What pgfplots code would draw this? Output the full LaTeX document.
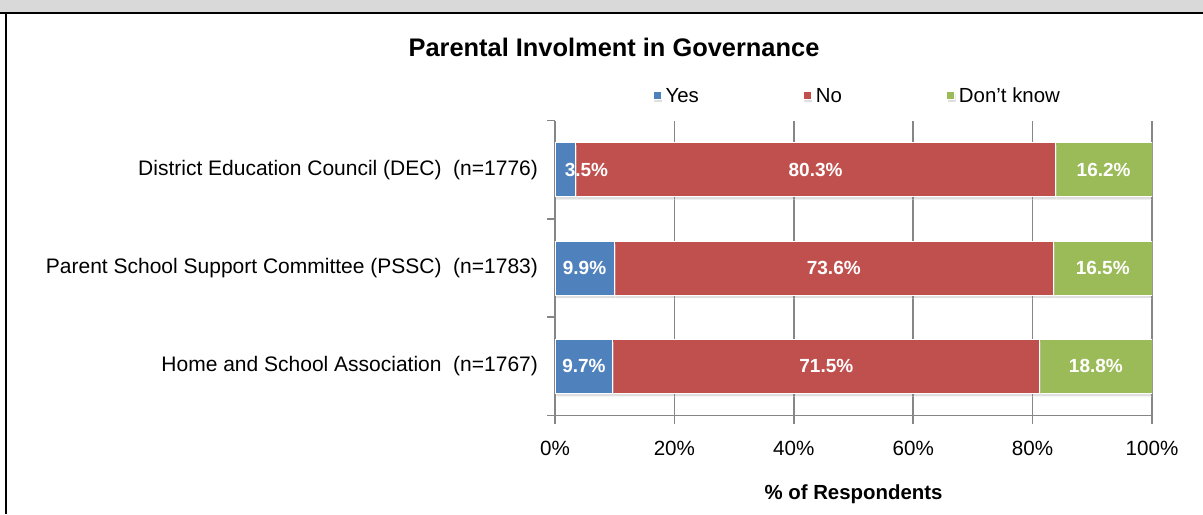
\documentclass[border=0pt]{standalone}
\usepackage{pgfplots}
\pgfplotsset{compat=1.18}
\usepackage{pgfplotstable}
\usepackage{fontspec}
\setmainfont{Liberation Sans}
\usetikzlibrary{shadows}
\definecolor{cyes}{HTML}{4F81BD}
\definecolor{cno}{HTML}{C0504D}
\definecolor{cdk}{HTML}{9BBB59}
\definecolor{cgrid}{HTML}{868686}
\definecolor{cband}{HTML}{D9D9D9}

\pgfplotstableread{
y yes no dk
0 9.7 71.5 18.8
1 9.9 73.6 16.5
2 3.5 80.3 16.2
}\datatable

\begin{document}
\begin{tikzpicture}
\path[use as bounding box] (0,0) rectangle (601.5pt,-257pt);
\fill[cband] (0,0) rectangle (601.5pt,-6pt);
\draw[black, line width=1pt] (0,-6.25pt) -- (601.5pt,-6.25pt);
\draw[black, line width=1pt] (3pt,-6pt) -- (3pt,-257pt);
\node[font=\fontsize{12.7}{15}\selectfont\bfseries] at (307pt,-23.5pt) {Parental Involment in Governance};
\begin{axis}[
  at={(277.5pt,-207.75pt)}, anchor=south west,
  scale only axis, width=298.5pt, height=147.5pt,
  xbar stacked, bar width=27pt,
  xmin=0, xmax=100, ymin=-0.5, ymax=2.5,
  axis x line*=bottom, axis y line*=left,
  axis line style={cgrid, line width=0.75pt, -},
  xtick={0,20,40,60,80,100},
  xticklabel={\pgfmathprintnumber{\tick}\%},
  xticklabel style={yshift=-5.5pt},
  /pgf/number format/assume math mode=true,
  tick align=outside, major tick length=4pt,
  tick style={cgrid, line width=0.75pt},
  xmajorgrids, grid style={cgrid, line width=0.75pt},
  ytick={-0.5,0.5,1.5,2.5}, yticklabels={},
  extra y ticks={0,1,2},
  extra y tick labels={Home and School Association\ \ (n=1767), Parent School Support Committee (PSSC)\ \ (n=1783), District Education Council (DEC)\ \ (n=1776)},
  extra y tick style={major tick length=0pt, yticklabel style={xshift=-5pt, font=\fontsize{10.5}{12}\selectfont}},
  ticklabel style={font=\fontsize{10.3}{12}\selectfont},
  xlabel={\% of Respondents},
  xlabel style={at={(axis description cs:0.5,0)}, anchor=center, yshift=-39.25pt, font=\fontsize{10.2}{12}\selectfont\bfseries},
  legend columns=3,
  legend style={draw=none, fill=none, at={(axis description cs:0.508,1.0797)}, anchor=center,
    font=\fontsize{10.2}{12}\selectfont,
    /tikz/every even column/.append style={column sep=50pt}},
  legend image code/.code={\fill[#1] (0pt,-1pt) rectangle (4pt,3pt);},
  every axis plot/.append style={draw=white, line width=0.5pt,
    drop shadow={shadow xshift=0.5pt, shadow yshift=-1.5pt, opacity=0.25}},
  visualization depends on={rawx \as \seg},
  nodes near coords={\pgfmathprintnumber[fixed,fixed zerofill,precision=1]{\seg}\%},
  every node near coord/.append style={anchor=center, text=white, font=\fontsize{9.5}{11}\selectfont\bfseries, xshift={(\seg<5)*10.5pt}},
]
\addplot[fill=cyes] table[x=yes, y=y] {\datatable};
\addplot[fill=cno] table[x=no, y=y] {\datatable};
\addplot[fill=cdk] table[x=dk, y=y] {\datatable};
\legend{Yes, No, Don't know}
\end{axis}
\end{tikzpicture}
\end{document}
